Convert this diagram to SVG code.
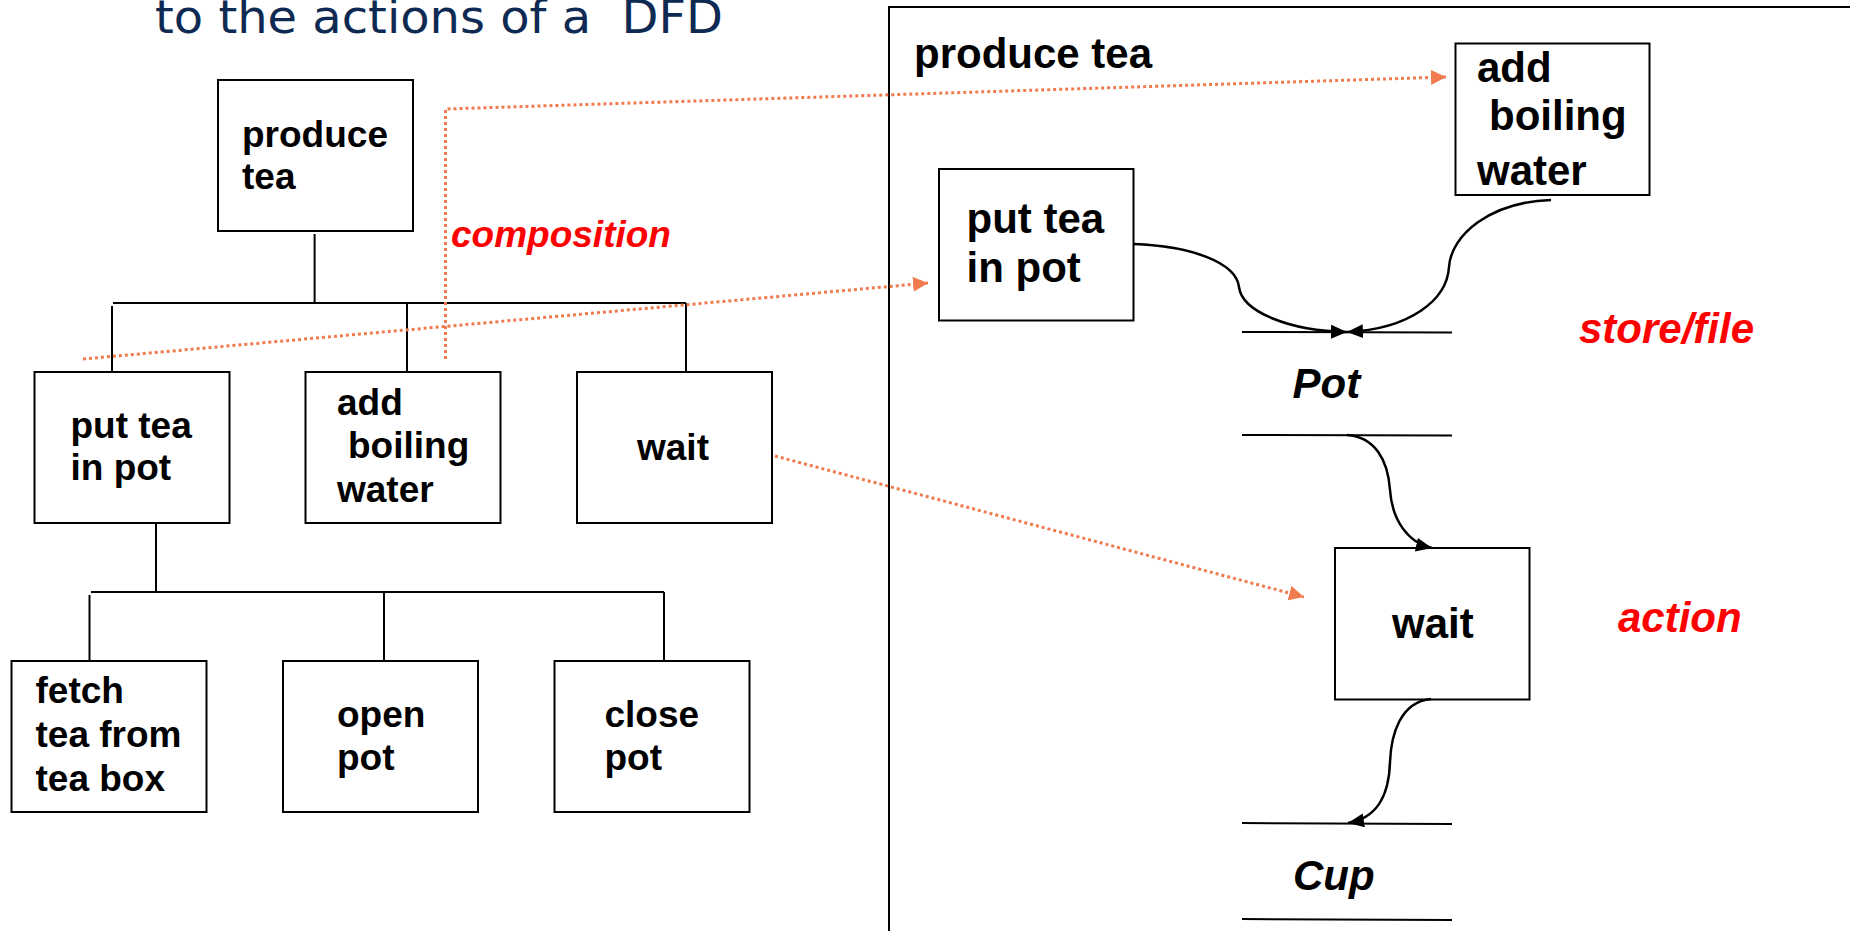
<svg xmlns="http://www.w3.org/2000/svg" width="1850" height="931" viewBox="0 0 1850 931">
  <style>
    .box { fill: #ffffff; stroke: #000000; stroke-width: 2; }
    .edge { fill: none; stroke: #000000; stroke-width: 2; }
    .flow { fill: none; stroke: #000000; stroke-width: 2.5; }
    .dots { fill: none; stroke: #EF7B4F; stroke-width: 3; stroke-dasharray: 3 3; }
    .t37 { font-family: "Liberation Sans", Arial, sans-serif; font-weight: bold; font-size: 37px; fill: #000000; }
    .t42 { font-family: "Liberation Sans", Arial, sans-serif; font-weight: bold; font-size: 42px; fill: #000000; }
    .store { font-family: "Liberation Sans", Arial, sans-serif; font-weight: bold; font-style: italic; font-size: 42px; fill: #000000; }
    .note { font-family: "Liberation Sans", Arial, sans-serif; font-weight: bold; font-style: italic; fill: #FF0000; }
    .title { font-family: "DejaVu Sans", Verdana, sans-serif; font-size: 46px; fill: #0E2A52; white-space: pre; }
  </style>
  <defs>
    <marker id="blackHead" viewBox="0 0 16 14" refX="16" refY="7" markerWidth="16" markerHeight="14" markerUnits="userSpaceOnUse" orient="auto">
      <path d="M0,0 L16,7 L0,14 Z" fill="#000000"/>
    </marker>
    <marker id="orangeHead" viewBox="0 0 15 15" refX="15" refY="7.5" markerWidth="15" markerHeight="15" markerUnits="userSpaceOnUse" orient="auto">
      <path d="M0,0 L15,7.5 L0,15 Z" fill="#EF7B4F"/>
    </marker>
  </defs>

  <!-- heading -->
  <text class="title" x="155" y="33" textLength="568" lengthAdjust="spacingAndGlyphs" xml:space="preserve">to the actions of a  DFD</text>

  <!-- frame of the DFD for "produce tea" -->
  <path id="dfd-frame" d="M889,931 V7 H1850" fill="none" stroke="#000000" stroke-width="2"/>

  <!-- composition tree: links -->
  <g id="tree-links" class="edge">
    <line x1="314.6" y1="234" x2="314.6" y2="303"/>
    <line x1="113" y1="303" x2="686" y2="303"/>
    <line x1="112" y1="306" x2="112" y2="373"/>
    <line x1="407" y1="303" x2="407" y2="372"/>
    <line x1="686" y1="303" x2="686" y2="372"/>
    <line x1="156" y1="523" x2="156" y2="592"/>
    <line x1="91" y1="592" x2="664" y2="592"/>
    <line x1="89.5" y1="595" x2="89.5" y2="661"/>
    <line x1="384" y1="592" x2="384" y2="661"/>
    <line x1="664" y1="592" x2="664" y2="661"/>
  </g>

  <!-- composition tree: nodes -->
  <g id="tree-produce-tea">
    <rect class="box" x="218" y="80" width="195" height="151"/>
    <text class="t37" x="242" y="147">produce</text>
    <text class="t37" x="242" y="189">tea</text>
  </g>
  <g id="tree-put-tea">
    <rect class="box" x="34.5" y="372" width="195" height="151"/>
    <text class="t37" x="70.5" y="438">put tea</text>
    <text class="t37" x="70.5" y="480">in pot</text>
  </g>
  <g id="tree-add-water">
    <rect class="box" x="305.5" y="372" width="195" height="151"/>
    <text class="t37" x="337" y="415">add</text>
    <text class="t37" x="348" y="458">boiling</text>
    <text class="t37" x="337" y="502">water</text>
  </g>
  <g id="tree-wait">
    <rect class="box" x="577" y="372" width="195" height="151"/>
    <text class="t37" x="637" y="460">wait</text>
  </g>
  <g id="tree-fetch">
    <rect class="box" x="11.5" y="661" width="195" height="151"/>
    <text class="t37" x="35.5" y="703">fetch</text>
    <text class="t37" x="35.5" y="747">tea from</text>
    <text class="t37" x="35.5" y="791">tea box</text>
  </g>
  <g id="tree-open">
    <rect class="box" x="283" y="661" width="195" height="151"/>
    <text class="t37" x="337" y="727">open</text>
    <text class="t37" x="337" y="770">pot</text>
  </g>
  <g id="tree-close">
    <rect class="box" x="554.5" y="661" width="195" height="151"/>
    <text class="t37" x="604.5" y="727">close</text>
    <text class="t37" x="604.5" y="770">pot</text>
  </g>

  <text class="note" x="451" y="247" font-size="37">composition</text>

  <!-- DFD nodes -->
  <text id="dfd-title" class="t42" x="914" y="68" font-size="43">produce tea</text>
  <g id="dfd-add-water">
    <rect class="box" x="1455.5" y="43.5" width="194" height="151.5"/>
    <text class="t42" x="1477" y="82">add</text>
    <text class="t42" x="1489" y="130">boiling</text>
    <text class="t42" x="1477" y="185">water</text>
  </g>
  <g id="dfd-put-tea">
    <rect class="box" x="939" y="169" width="194.5" height="151.5"/>
    <text class="t42" x="966.5" y="233">put tea</text>
    <text class="t42" x="966.5" y="282">in pot</text>
  </g>
  <g id="dfd-pot">
    <line class="edge" x1="1242" y1="332" x2="1452" y2="332.5"/>
    <line class="edge" x1="1242" y1="435" x2="1452" y2="435.5"/>
    <text class="store" x="1292.5" y="398">Pot</text>
  </g>
  <g id="dfd-wait">
    <rect class="box" x="1335" y="548" width="194.5" height="151.5"/>
    <text class="t42" x="1392" y="638">wait</text>
  </g>
  <g id="dfd-cup">
    <line class="edge" x1="1242" y1="823" x2="1452" y2="824"/>
    <line class="edge" x1="1242" y1="919" x2="1452" y2="920"/>
    <text class="store" x="1293" y="890">Cup</text>
  </g>

  <text class="note" x="1579" y="343" font-size="42">store/file</text>
  <text class="note" x="1618" y="632" font-size="42">action</text>

  <!-- data flows -->
  <g id="dfd-flows" class="flow">
    <path d="M1134,244 C1190,246 1236,262 1239,287 C1242,312 1290,331 1347,332" marker-end="url(#blackHead)"/>
    <path d="M1551,200 C1490,202 1451,235 1449,267 C1447,300 1410,329 1347,332" marker-end="url(#blackHead)"/>
    <path d="M1347,435 C1375,437 1388,460 1390,490 C1392,520 1408,543 1432,548" marker-end="url(#blackHead)"/>
    <path d="M1431,699 C1400,702 1391,735 1390,762 C1389,795 1378,818 1348,823" marker-end="url(#blackHead)"/>
  </g>

  <!-- refinement links from tree to DFD -->
  <g id="refinement-links" class="dots">
    <path d="M445.5,359 V109 L1446,77" marker-end="url(#orangeHead)"/>
    <path d="M83,359 L928,283" marker-end="url(#orangeHead)"/>
    <path d="M775,456 L1304,597" marker-end="url(#orangeHead)"/>
  </g>
</svg>
